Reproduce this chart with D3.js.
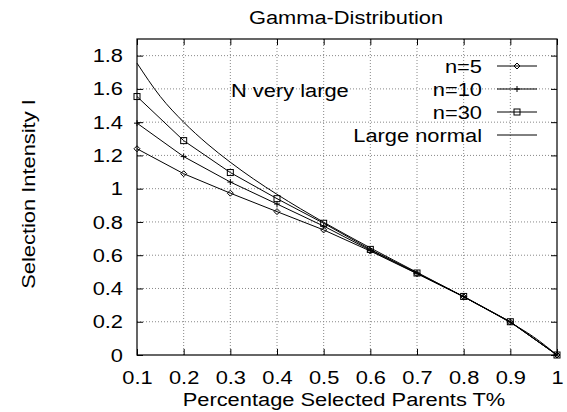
<!DOCTYPE html>
<html>
<head>
<meta charset="utf-8">
<script src="https://cdn.jsdelivr.net/npm/d3@7"></script>
<style>
  body { margin: 0; background: #fff; }
  text { font-family: "Liberation Sans", Arial, sans-serif; fill: #000; }
</style>
</head>
<body>
<script>
// data
const pts = [0.1, 0.2, 0.3, 0.4, 0.5, 0.6, 0.7, 0.8, 0.9, 1.0];
const n5 = [1.24, 1.09, 0.973, 0.862, 0.752, 0.625, 0.489, 0.350, 0.198, 0];
const n10 = [1.394, 1.193, 1.04, 0.908, 0.775, 0.630, 0.491, 0.351, 0.199, 0];
const n30 = [1.554, 1.289, 1.097, 0.940, 0.792, 0.635, 0.493, 0.352, 0.200, 0];
const normPts = [0.1, 0.15, 0.2, 0.25, 0.3, 0.35, 0.4, 0.45, 0.5, 0.55, 0.6, 0.65, 0.7, 0.75, 0.8, 0.85, 0.9, 0.95, 1.0];
const normVals = [1.755, 1.554, 1.400, 1.271, 1.159, 1.058, 0.966, 0.880, 0.798, 0.720, 0.644, 0.570, 0.497, 0.424, 0.350, 0.274, 0.195, 0.1085, 0];
const xTicks = [0.1, 0.2, 0.3, 0.4, 0.5, 0.6, 0.7, 0.8, 0.9, 1];
const yTicks = [0, 0.2, 0.4, 0.6, 0.8, 1, 1.2, 1.4, 1.6, 1.8];
const legendNames = ["n=5", "n=10", "n=30", "Large normal"];

const width = 567, height = 412;
const margin = {top: 39, right: 10, bottom: 57, left: 137};
const iw = width - margin.left - margin.right;
const ih = height - margin.top - margin.bottom;

// the reference text is a bit wide, so stretch it horizontally
const fs = "19px";
const sx = 1.15;

const svg = d3.select("body").append("svg")
  .attr("width", width).attr("height", height);

const x = d3.scaleLinear().domain([0.1, 1]).range([0, iw]);
const y = d3.scaleLinear().domain([0, 1.9]).range([ih, 0]);

const g = svg.append("g").attr("transform", `translate(${margin.left},${margin.top})`);

// grid
g.append("g").selectAll("line").data(xTicks.slice(1, -1)).join("line")
  .attr("x1", d => x(d)).attr("x2", d => x(d)).attr("y1", 0).attr("y2", ih)
  .attr("stroke", "#888").attr("stroke-width", 1).attr("stroke-dasharray", "1,2");
g.append("g").selectAll("line").data(yTicks.slice(1)).join("line")
  .attr("x1", 0).attr("x2", iw).attr("y1", d => y(d)).attr("y2", d => y(d))
  .attr("stroke", "#888").attr("stroke-width", 1).attr("stroke-dasharray", "1,2");

// axes (ticks inward, mirrored)
const ax = (gen) => gen.tickSizeOuter(0);
g.append("g").attr("transform", `translate(0,${ih})`)
  .call(ax(d3.axisBottom(x).tickValues(xTicks).tickSize(-6).tickPadding(15.5).tickFormat(d3.format("~g"))))
  .call(s => s.select(".domain").remove())
  .call(s => s.selectAll("text").style("font-size", fs)
    .style("font-family", "Liberation Sans, Arial, sans-serif")
    .attr("transform", `scale(${sx},1)`));
g.append("g")
  .call(ax(d3.axisTop(x).tickValues(xTicks).tickSize(-6).tickFormat("")))
  .call(s => s.select(".domain").remove());
g.append("g")
  .call(ax(d3.axisLeft(y).tickValues(yTicks).tickSize(-6).tickPadding(14).tickFormat(d3.format("~g"))))
  .call(s => s.select(".domain").remove())
  .call(s => s.selectAll("text").style("font-size", fs)
    .style("font-family", "Liberation Sans, Arial, sans-serif")
    .attr("x", -14 / sx)
    .attr("transform", `scale(${sx},1)`));
g.append("g").attr("transform", `translate(${iw},0)`)
  .call(ax(d3.axisRight(y).tickValues(yTicks).tickSize(-6).tickFormat("")))
  .call(s => s.select(".domain").remove());
g.selectAll(".tick line").attr("stroke", "#000");

// border
g.append("rect").attr("width", iw).attr("height", ih)
  .attr("fill", "none").attr("stroke", "#000").attr("stroke-width", 1.2);

// lines
const line = d3.line().x(d => x(d[0])).y(d => y(d[1]));
const smooth = d3.line().x(d => x(d[0])).y(d => y(d[1])).curve(d3.curveMonotoneX);
const series = [n5, n10, n30].map(v => pts.map((p, i) => [p, v[i]]));
series.forEach(s => {
  g.append("path").datum(s).attr("d", line)
    .attr("fill", "none").attr("stroke", "#000").attr("stroke-width", 1);
});
g.append("path").datum(normPts.map((p, i) => [p, normVals[i]])).attr("d", smooth)
  .attr("fill", "none").attr("stroke", "#000").attr("stroke-width", 1);

// markers
function marker(sel, kind) {
  if (kind === 0) {
    sel.append("path").attr("d", "M0,-3L3,0L0,3L-3,0Z").attr("fill", "none").attr("stroke", "#000").attr("stroke-width", 1);
  } else if (kind === 1) {
    sel.append("path").attr("d", "M-3,0H3M0,-3V3").attr("stroke", "#000").attr("stroke-width", 1);
  } else if (kind === 2) {
    sel.append("rect").attr("x", -3).attr("y", -3).attr("width", 6).attr("height", 6)
      .attr("fill", "none").attr("stroke", "#000").attr("stroke-width", 1);
  }
}
series.forEach((s, k) => {
  g.append("g").selectAll("g").data(s).join("g")
    .attr("transform", d => `translate(${x(d[0])},${y(d[1])})`)
    .each(function() { marker(d3.select(this), k); });
});

// stretched text helper
function label(tx, ty, str, anchor, rot) {
  return svg.append("text")
    .attr("transform", `translate(${tx},${ty})${rot ? " rotate(" + rot + ")" : ""} scale(${sx},1)`)
    .attr("text-anchor", anchor)
    .style("font-size", fs)
    .text(str);
}

// legend
legendNames.forEach((name, i) => {
  const ly = 66 + i * 23;
  label(482, ly + 7, name, "end");
  svg.append("line").attr("x1", 497).attr("x2", 537).attr("y1", ly).attr("y2", ly)
    .attr("stroke", "#000").attr("stroke-width", 1);
  const m = svg.append("g").attr("transform", `translate(517,${ly})`);
  marker(m, i);
});

// annotation
label(231, 97, "N very large", "start");

// titles
label(346, 24, "Gamma-Distribution", "middle");
label(344, 406, "Percentage Selected Parents T%", "middle");
label(35, 194, "Selection Intensity I", "middle", -90);
</script>
</body>
</html>
